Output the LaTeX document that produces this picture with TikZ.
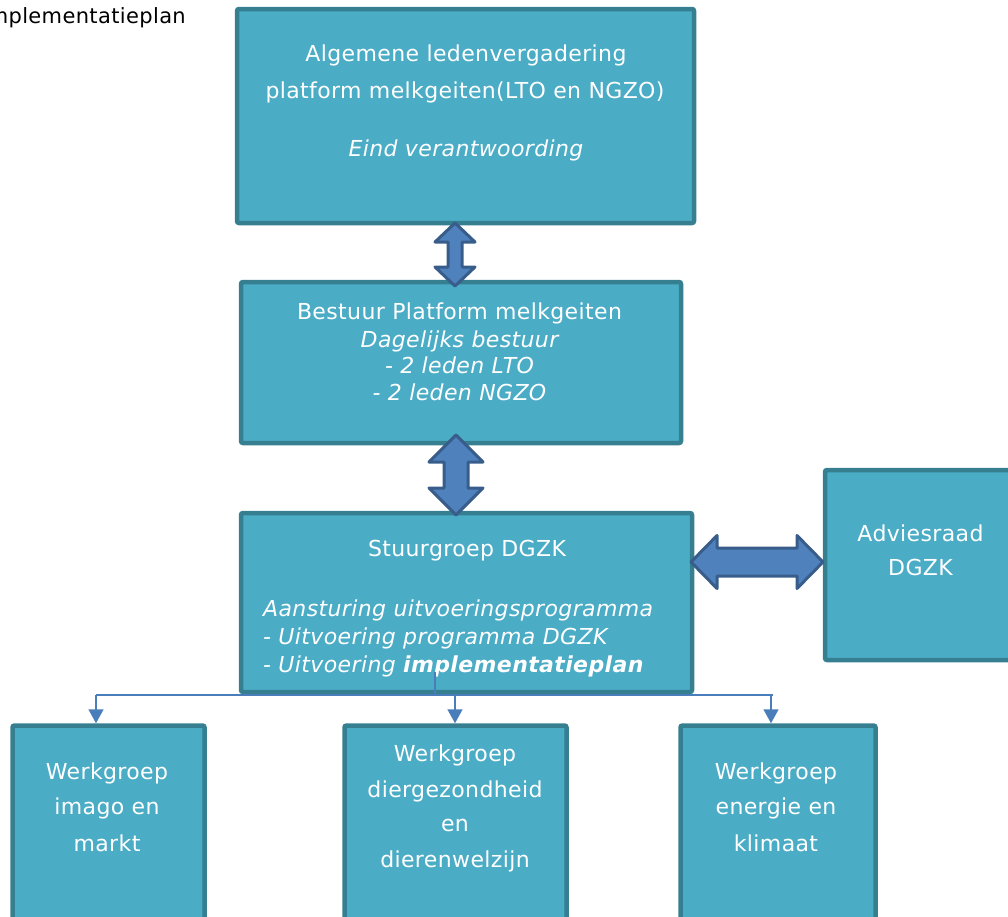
\documentclass[tikz,border=0pt]{standalone}
\usepackage{fontspec}
\setmainfont{DejaVu Sans}[LetterSpace=1.7]
\usetikzlibrary{arrows.meta}
\definecolor{boxfill}{HTML}{4BACC6}
\definecolor{boxline}{HTML}{357F91}
\definecolor{arrfill}{HTML}{4F81BD}
\definecolor{arrline}{HTML}{385D8A}
\definecolor{connc}{HTML}{4A7EBB}
\tikzset{
  box/.style={draw=boxline, fill=boxfill, line width=4.5pt, rounded corners=2pt, inner sep=0pt},
  txt/.style={text=white, inner sep=0pt, anchor=base, font=\fontsize{22}{27}\selectfont},
  ltxt/.style={txt, anchor=base west},
  dblarr/.style={draw=arrline, fill=arrfill, line width=3pt, line join=round},
  conn/.style={draw=connc, line width=1.5pt},
  connarr/.style={conn, -{Triangle[width=15pt,length=14pt]}}
}
\newcommand\vdblarrow[6]{%
 \draw[dblarr] (#1,#2) -- (#1+#5,#2+#6) -- (#1+#4,#2+#6) -- (#1+#4,#3-#6) -- (#1+#5,#3-#6) -- (#1,#3) -- (#1-#5,#3-#6) -- (#1-#4,#3-#6) -- (#1-#4,#2+#6) -- (#1-#5,#2+#6) -- cycle;}
\newcommand\hdblarrow[6]{%
 \draw[dblarr] (#2,#1) -- (#2+#6,#1-#5) -- (#2+#6,#1-#4) -- (#3-#6,#1-#4) -- (#3-#6,#1-#5) -- (#3,#1) -- (#3-#6,#1+#5) -- (#3-#6,#1+#4) -- (#2+#6,#1+#4) -- (#2+#6,#1+#5) -- cycle;}
\begin{document}
\begin{tikzpicture}[x=1pt,y=-1pt]
\useasboundingbox (0,0) rectangle (1008,916);
% header text
\node[inner sep=0pt, anchor=base east, font=\fontsize{21}{25}\selectfont] (hdr) at (186,23) {Implementatieplan};
% boxes
\node[box, minimum width=457pt, minimum height=214pt] (alv) at (465.5,116) {};
\node[box, minimum width=440pt, minimum height=161pt] (bestuur) at (461,362.5) {};
\node[box, minimum width=451pt, minimum height=179pt] (stuur) at (466.5,602.5) {};
\node[box, minimum width=190pt, minimum height=190pt] (advies) at (920,565) {};
\node[box, minimum width=192pt, minimum height=205pt] (w1) at (108.5,828) {};
\node[box, minimum width=222pt, minimum height=205pt] (w2) at (455.5,828) {};
\node[box, minimum width=195pt, minimum height=205pt] (w3) at (778,828) {};
% texts
\node[txt] (t1) at (466,61) {Algemene ledenvergadering};
\node[txt] (t2) at (465,98) {platform melkgeiten(LTO en NGZO)};
\node[txt, font=\fontsize{22}{27}\selectfont\itshape] (t3) at (466,156) {Eind verantwoording};
\node[txt] (b1) at (459.5,319) {Bestuur Platform melkgeiten};
\node[txt, font=\fontsize{22}{27}\selectfont\itshape] (b2) at (459.5,347) {Dagelijks bestuur};
\node[txt, font=\fontsize{22}{27}\selectfont\itshape] (b3) at (459.5,373) {- 2 leden LTO};
\node[txt, font=\fontsize{22}{27}\selectfont\itshape] (b4) at (459.5,400) {- 2 leden NGZO};
\node[txt] (s1) at (467,556) {Stuurgroep DGZK};
\node[ltxt, font=\fontsize{22}{27}\selectfont\itshape] (s2) at (263,616) {Aansturing uitvoeringsprogramma};
\node[ltxt, font=\fontsize{22}{27}\selectfont\itshape] (s3) at (263,644) {- Uitvoering programma DGZK};
\node[ltxt, font=\fontsize{22}{27}\selectfont\itshape] (s4) at (263,672) {- Uitvoering \textbf{implementatieplan}};
\node[txt] (a1) at (920.5,541) {Adviesraad};
\node[txt] (a2) at (920.5,575) {DGZK};
\node[txt] (w1a) at (107,779) {Werkgroep};
\node[txt] (w1b) at (107,814) {imago en};
\node[txt] (w1c) at (107,851) {markt};
\node[txt] (w2a) at (455,761) {Werkgroep};
\node[txt] (w2b) at (455,797) {diergezondheid};
\node[txt] (w2c) at (455,831) {en};
\node[txt] (w2d) at (455,867) {dierenwelzijn};
\node[txt] (w3a) at (776,779) {Werkgroep};
\node[txt] (w3b) at (776,814) {energie en};
\node[txt] (w3c) at (776,851) {klimaat};
% block arrows
\vdblarrow{455}{223}{286}{7}{20}{19}
\vdblarrow{456}{435}{515}{12}{27}{27}
\hdblarrow{562}{691}{823}{14}{26.5}{26}
% connectors
\coordinate (src) at (435,672);
\coordinate (jn) at (435,695);
\coordinate (jl) at (96,695);
\coordinate (jm) at (455,695);
\coordinate (jr) at (771,695);
\coordinate (je) at (773,695);
\draw[conn] (src) -- (jn);
\draw[conn] (jl) -- (je);
\draw[connarr] (jl) -- (jl |- w1.north);
\draw[connarr] (jm) -- (jm |- w2.north);
\draw[connarr] (jr) -- (jr |- w3.north);
\end{tikzpicture}
\end{document}
